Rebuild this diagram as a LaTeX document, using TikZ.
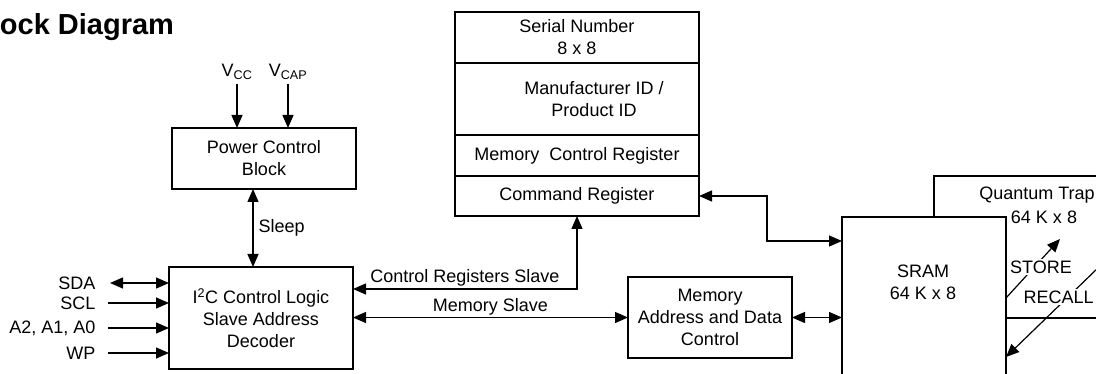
\documentclass[tikz,border=0pt]{standalone}
\usepackage{fontspec}
\setmainfont{Liberation Sans}
\usetikzlibrary{arrows.meta,positioning,calc}

\begin{document}
\begin{tikzpicture}[x=1pt,y=-1pt,>={Triangle[length=13pt,width=11pt]},line width=1.2pt,
  font=\fontsize{18}{22}\selectfont,
  box/.style={draw,fill=white,outer sep=0pt,inner sep=3pt,align=center},
  txt/.style={align=center,inner sep=1pt},
  lbl/.style={inner sep=2pt},
  sig/.style={anchor=east,inner sep=2pt},
  arr/.style={->},
  dbl/.style={<->}]
\useasboundingbox (0,0) rectangle (1096,374);
\clip (0,0) rectangle (1096,374);

% title
\node[anchor=base east,font=\fontsize{29}{34}\selectfont\bfseries] (title) at (178,35) {ock Diagram};

% power
\node[box,minimum width=184pt,minimum height=61pt] (pcb) at (264,158.5) {Power Control\\Block};
\node (vcc) at (237,72) {V\textsubscript{CC}};
\node (vcap) at (288,72) {V\textsubscript{CAP}};
\draw[arr] (vcc) -- (vcc |- pcb.north);
\draw[arr] (vcap) -- (vcap |- pcb.north);

% i2c
\node[box,minimum width=184pt,minimum height=102pt] (i2c) at (261,318) {I\textsuperscript{2}C Control Logic\\Slave Address\\Decoder};
\coordinate (sl) at ($(pcb.south)+(-11,0)$);
\draw[dbl] (sl) -- (sl |- i2c.north) node[midway,right,inner sep=5pt] {Sleep};

\node[sig] (sda) at (98,283) {SDA};
\draw[dbl,shorten <=12pt] (sda) -- (sda -| i2c.west);
\foreach \name/\txt/\y in {scl/SCL/303, adr/{A2, A1, A0}/328, wp/WP/353}{
  \node[sig] (\name) at (98,\y) {\txt};
  \draw[arr,shorten <=10pt] (\name) -- (\name -| i2c.west);
}

% registers
\node[box,minimum width=244pt,minimum height=51pt] (sn) at (577,37.5) {Serial Number\\8 x 8};
\node[box,minimum width=244pt,minimum height=72pt,below=0pt of sn] (mid) {};
\node[txt] (midtxt) at ($(mid)+(17,0)$) {Manufacturer ID /\\Product ID};
\node[box,minimum width=244pt,minimum height=41pt,below=0pt of mid] (mcr) {Memory\ \ Control Register};
\node[box,minimum width=244pt,minimum height=40pt,below=0pt of mcr] (cmd) {Command Register};

% memory
\node[box,minimum width=164pt,minimum height=81pt] (mem) at (710,317.5) {Memory\\Address and Data\\Control};

\node[box,minimum width=230pt,minimum height=142pt,anchor=north west] (qt) at (934,176) {};
\node[txt] (qttxt) at (1037,195) {Quantum Trap};
\node[txt] (qtsize) at (1044,217) {64 K x 8};
\node[box,minimum width=164pt,minimum height=200pt,anchor=north west] (sram) at (842,217) {};
\node[txt] (sramtxt) at (923,282) {SRAM\\64 K x 8};

% links
\draw[dbl] (cmd.south) |- ($(i2c.north east)+(0,22)$) node[lbl,pos=0.75,above] {Control Registers Slave};
\draw[dbl] (i2c.east |- mem.west) -- (mem.west) node[lbl,midway,above] {Memory Slave};
\draw[dbl] (mem.east) -- (mem.east -| sram.west);
\coordinate (bend) at (767,241);
\draw[dbl] (cmd.east) -| (bend) -- (bend -| sram.west);

% store / recall
\coordinate (stend) at (1060,239);
\draw[arr] ($(sram.north east)+(0,81)$) -- (stend);
\node[fill=white,inner sep=2pt] (store) at (1041,267) {STORE};
\coordinate (rcstart) at (1100,266);
\draw[arr] (rcstart) -- ($(sram.north east)+(0,140)$);
\node[fill=white,inner sep=2pt,anchor=west] (recall) at (1021,297) {RECALL};

\end{tikzpicture}
\end{document}
